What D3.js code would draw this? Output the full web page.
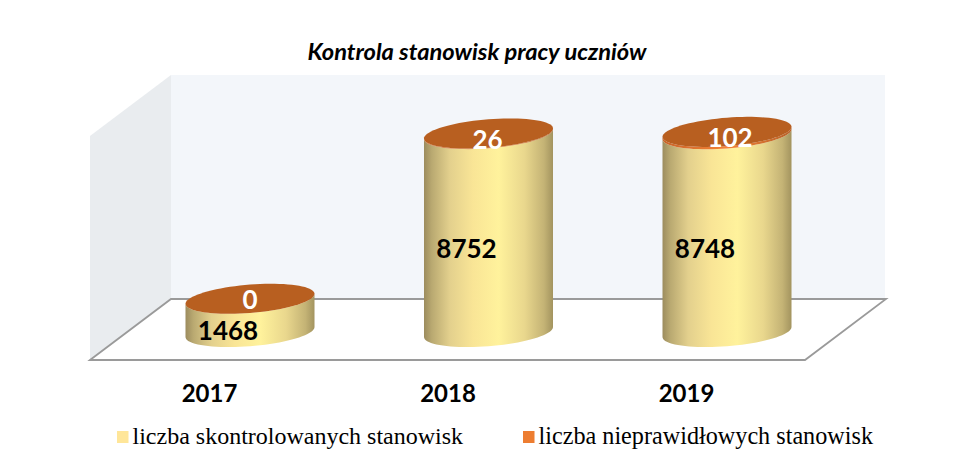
<!DOCTYPE html>
<html lang="pl">
<head>
<meta charset="utf-8">
<script src="https://cdn.jsdelivr.net/npm/d3@7"></script>
<style>
html,body{margin:0;padding:0;background:#fff;}
svg{display:block;}
.axis path,.axis line{display:none;}
</style>
</head>
<body>
<script>
// Data
const categories = ["2017", "2018", "2019"];
const checkedPosts = [1468, 8752, 8748];
const invalidPosts = [0, 26, 102];
const seriesNames = ["liczba skontrolowanych stanowisk", "liczba nieprawidłowych stanowisk"];
const chartTitle = "Kontrola stanowisk pracy uczniów";

// Layout
const W = 957, H = 459;
const wall = {x0: 171, x1: 886, top: 75, floor: 299};
const depth = {dx: 81, dy: 61};
const radius = {a: 64.5, b: 14.2, k: -5};
const checkedLabelDx = -22;
const checkedLabelY = [331, 249, 249];
const invalidLabelDx = [0, -1, 3];
const invalidLabelDy = [1, 6, 6];

const svg = d3.select("body").append("svg").attr("width", W).attr("height", H)
  .style("font-family", "Lato, 'Open Sans', sans-serif");

const x = d3.scalePoint().domain(categories).range([250, 727]);
const y = d3.scaleLinear().domain([0, 8778]).range([332, 133.5]);

// Gradients
const defs = svg.append("defs");
function gradient(id, stops) {
  const g = defs.append("linearGradient").attr("id", id)
    .attr("x1", 0).attr("x2", 1).attr("y1", 0).attr("y2", 0);
  stops.forEach(([o, c]) => g.append("stop").attr("offset", o).attr("stop-color", c));
}
gradient("cyl", [[0, "#9c8c5e"], [0.06, "#b9a971"], [0.2, "#e3d08d"], [0.38, "#f9e596"],
                 [0.58, "#fff29c"], [0.78, "#e9d78d"], [0.93, "#c4b375"], [1, "#a3945f"]]);
gradient("cylTop", [[0, "#c9652a"], [0.5, "#f58235"], [1, "#b8632a"]]);

// Walls and floor
const poly = d3.line();
const frontY = wall.floor + depth.dy;
const frontX = wall.x0 - depth.dx;
svg.append("path").attr("fill", "#f3f6fa")
  .attr("d", poly([[wall.x0, wall.top], [wall.x1 - 1, wall.top], [wall.x1 - 1, wall.floor], [wall.x0, wall.floor]]) + "Z");
svg.append("path").attr("fill", "#e9ecef")
  .attr("d", poly([[frontX, wall.top + depth.dy], [wall.x0, wall.top], [wall.x0, wall.floor], [frontX, frontY]]) + "Z");
svg.append("path").attr("fill", "#ffffff").attr("stroke", "#9a9a9a").attr("stroke-width", 1.8)
  .attr("stroke-linejoin", "miter")
  .attr("d", poly([[frontX, frontY], [wall.x0, wall.floor], [wall.x1, wall.floor], [wall.x1 - depth.dx, frontY]]) + "Z");

// Cylinder geometry
function lowerBand(cx, yTop, yBottom) {
  const ts = d3.range(0, 41).map(i => i / 40 * Math.PI);
  const pt = (t, cy) => [cx + radius.a * Math.cos(t), cy + radius.b * Math.sin(t) + radius.k * Math.cos(t)];
  const bottom = ts.map(t => pt(t, yBottom));
  const top = ts.slice().reverse().map(t => pt(t, yTop));
  return poly(bottom.concat(top)) + "Z";
}
function topEllipse(cx, cy) {
  const ts = d3.range(0, 81).map(i => i / 80 * 2 * Math.PI);
  return poly(ts.map(t => [cx + radius.a * Math.cos(t), cy + radius.b * Math.sin(t) + radius.k * Math.cos(t)])) + "Z";
}

categories.forEach((c, i) => {
  const cx = x(c);
  const a = checkedPosts[i], b = invalidPosts[i];
  svg.append("path").attr("fill", "url(#cyl)").attr("d", lowerBand(cx, y(a), y(0)));
  svg.append("path").attr("fill", "url(#cylTop)").attr("d", lowerBand(cx, y(a + b), y(a)));
  svg.append("path").attr("fill", "#b85f20").attr("d", topEllipse(cx, y(a + b)));
});

// Value labels
const labelFont = {size: "26px", weight: 700};
categories.forEach((c, i) => {
  svg.append("text").attr("x", x(c) + checkedLabelDx).attr("y", checkedLabelY[i])
    .attr("dy", "0.35em").attr("text-anchor", "middle")
    .attr("font-size", labelFont.size).attr("font-weight", labelFont.weight).attr("fill", "#000")
    .text(checkedPosts[i]);
  svg.append("text").attr("x", x(c) + invalidLabelDx[i]).attr("y", y(checkedPosts[i] + invalidPosts[i]) + invalidLabelDy[i])
    .attr("dy", "0.35em").attr("text-anchor", "middle")
    .attr("font-size", labelFont.size).attr("font-weight", labelFont.weight).attr("fill", "#fff")
    .text(invalidPosts[i]);
});

// Category axis
const axisG = svg.append("g").attr("class", "axis")
  .attr("transform", "translate(-41,381)")
  .call(d3.axisBottom(x).tickSize(0).tickPadding(4));
axisG.selectAll("text").attr("font-size", "24px").attr("font-weight", 700)
  .attr("fill", "#000").attr("font-family", "Lato, 'Open Sans', sans-serif");

// Title
svg.append("text").attr("x", 477).attr("y", 52).attr("dy", "0.35em").attr("text-anchor", "middle")
  .attr("font-size", "23.7px").attr("font-weight", 700).attr("font-style", "italic").attr("fill", "#000")
  .text(chartTitle);

// Legend
const legendX = [117, 523];
const legendColors = ["#ffe699", "#ed7d31"];
const legendSize = ["24px", "24.2px"];
seriesNames.forEach((n, i) => {
  svg.append("rect").attr("x", legendX[i]).attr("y", 431).attr("width", 11.5).attr("height", 12)
    .attr("fill", legendColors[i]);
  svg.append("text").attr("x", legendX[i] + 15.5).attr("y", 444)
    .attr("font-family", "'Liberation Serif', serif").attr("font-size", legendSize[i]).attr("fill", "#000")
    .text(n);
});
</script>
</body>
</html>
